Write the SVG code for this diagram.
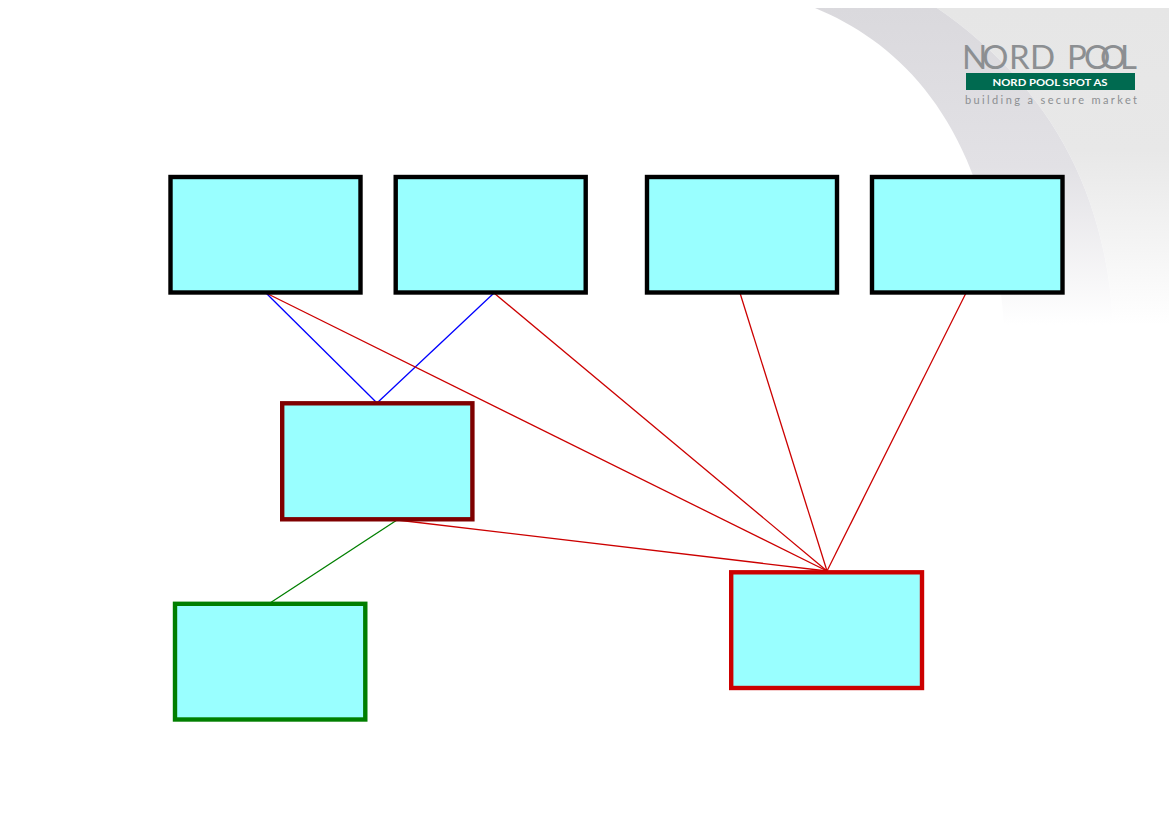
<svg xmlns="http://www.w3.org/2000/svg" width="1169" height="827" viewBox="0 0 1169 827">
<style>
.box{fill:#99ffff;stroke-width:4.400}
.k{stroke:#000}
.conn{fill:none;stroke-width:1.300}
.logo{font-family:"Lato","Liberation Sans",Arial,sans-serif}
</style>
<defs>
<linearGradient id="gl" gradientUnits="userSpaceOnUse" x1="0" y1="8" x2="0" y2="325">
<stop offset="0" stop-color="#e6e6e6"/><stop offset=".45" stop-color="#e8e8e8"/><stop offset="1" stop-color="#ffffff"/>
</linearGradient>
<linearGradient id="gd" gradientUnits="userSpaceOnUse" x1="0" y1="8" x2="0" y2="325">
<stop offset="0" stop-color="#dad9dd"/><stop offset=".5" stop-color="#e2e1e5"/><stop offset="1" stop-color="#ffffff"/>
</linearGradient>
</defs>
<rect width="1169" height="827" fill="#fff"/>
<g id="background">
<path d="M937 8H1169V325H1113C1105 160 1020 65 937 8Z" fill="url(#gl)"/>
<path d="M815 8H937C1020 65 1105 160 1113 325H1004C990 130 905 45 815 8Z" fill="url(#gd)"/>
</g>
<g id="logo">
<text class="logo" x="962 982 1009 1030 1060 1067 1084 1100 1120" y="69" font-size="33" font-weight="400" fill="#8c8f92">NORD POOL</text>
<rect x="966" y="73" width="169" height="17" fill="#006a50"/>
<text class="logo" x="1050" y="85.500" font-size="10" font-weight="bold" fill="#fff" text-anchor="middle" textLength="115" lengthAdjust="spacingAndGlyphs">NORD POOL SPOT AS</text>
<text class="logo" x="965" y="104" font-size="11" font-weight="400" fill="#8c8f92" textLength="172">building a secure market</text>
</g>
<g id="connectors" class="conn">
<line x1="266" y1="293" x2="377" y2="403" stroke="#0000ff"/>
<line x1="494" y1="293" x2="377" y2="403" stroke="#0000ff"/>
<line x1="266" y1="293" x2="827" y2="571" stroke="#cc0000"/>
<line x1="494" y1="293" x2="827" y2="571" stroke="#cc0000"/>
<line x1="740" y1="293" x2="827" y2="571" stroke="#cc0000"/>
<line x1="966" y1="293" x2="827" y2="571" stroke="#cc0000"/>
<line x1="397" y1="520" x2="827" y2="571" stroke="#cc0000"/>
<line x1="397" y1="520" x2="270" y2="603" stroke="#007f00"/>
</g>
<g id="node-1"><rect class="box k" x="170.500" y="177" width="190" height="115.500"/></g>
<g id="node-2"><rect class="box k" x="395.700" y="177" width="190" height="115.500"/></g>
<g id="node-3"><rect class="box k" x="647" y="177" width="190" height="115.500"/></g>
<g id="node-4"><rect class="box k" x="872" y="177" width="190.500" height="115.500"/></g>
<g id="node-5"><rect class="box" stroke="#7f0000" x="282.200" y="403.300" width="190.200" height="116"/></g>
<g id="node-6"><rect class="box" stroke="#007f00" x="175" y="603.800" width="190.300" height="115.700"/></g>
<g id="node-7"><rect class="box" stroke="#cc0000" x="731.200" y="572.300" width="190.800" height="115.700"/></g>
</svg>
